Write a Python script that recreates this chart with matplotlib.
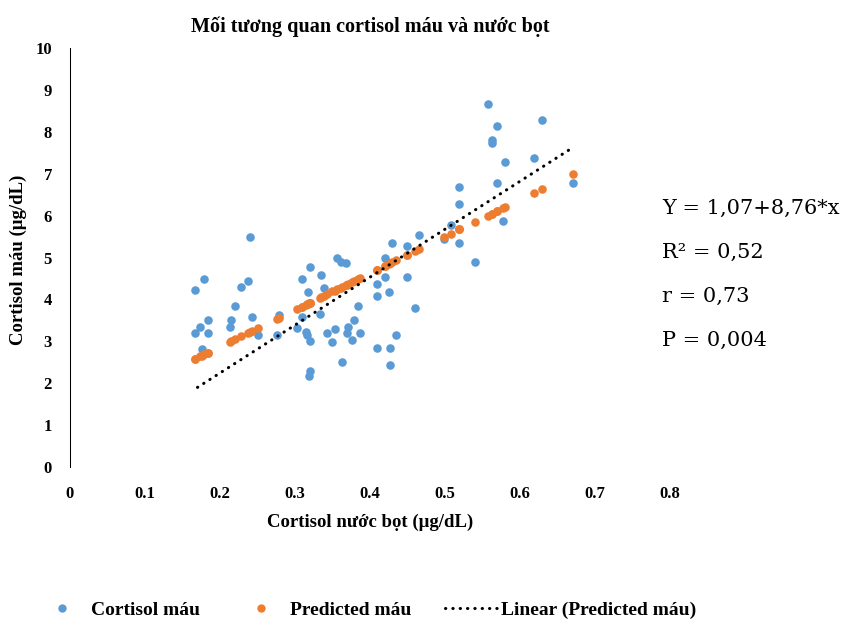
import matplotlib
matplotlib.use("Agg")
import matplotlib.pyplot as plt
from matplotlib.lines import Line2D

# ---- data ----
saliva_x = [0.166, 0.179, 0.184, 0.174, 0.166, 0.184, 0.176, 0.240, 0.238, 0.228,
            0.220, 0.215, 0.213, 0.243, 0.251, 0.278, 0.276, 0.309, 0.320, 0.335,
            0.317, 0.339, 0.333, 0.309, 0.302, 0.314, 0.316, 0.320, 0.320, 0.318,
            0.356, 0.361, 0.368, 0.342, 0.353, 0.350, 0.371, 0.369, 0.376, 0.387,
            0.379, 0.384, 0.363, 0.410, 0.409, 0.425, 0.420, 0.420, 0.430, 0.409,
            0.427, 0.427, 0.435, 0.450, 0.450, 0.466, 0.460, 0.499, 0.508, 0.519,
            0.519, 0.519, 0.540, 0.557, 0.570, 0.563, 0.563, 0.580, 0.570, 0.578,
            0.619, 0.629, 0.670]
blood_y = [4.22, 4.49, 3.52, 3.34, 3.21, 3.21, 2.81, 5.50, 4.44, 4.30,
           3.84, 3.50, 3.33, 3.57, 3.15, 3.63, 3.15, 4.48, 4.77, 4.58,
           4.17, 4.27, 3.64, 3.59, 3.31, 3.23, 3.15, 3.01, 2.29, 2.16,
           5.00, 4.90, 4.86, 3.21, 3.30, 2.98, 3.35, 3.19, 3.03, 3.21,
           3.52, 3.84, 2.51, 4.36, 4.08, 4.17, 5.00, 4.53, 5.35, 2.85,
           2.85, 2.43, 3.15, 5.27, 4.53, 5.54, 3.80, 5.45, 5.77, 5.35,
           6.68, 6.28, 4.90, 8.66, 8.15, 7.80, 7.74, 7.29, 6.77, 5.86,
           7.37, 8.29, 6.77]
predicted_y = [2.57, 2.69, 2.73, 2.64, 2.57, 2.73, 2.66, 3.22, 3.20, 3.12,
               3.05, 3.00, 2.99, 3.25, 3.32, 3.56, 3.54, 3.83, 3.92, 4.05,
               3.90, 4.09, 4.04, 3.83, 3.77, 3.87, 3.89, 3.92, 3.92, 3.91,
               4.24, 4.28, 4.34, 4.12, 4.21, 4.19, 4.37, 4.35, 4.41, 4.51,
               4.44, 4.48, 4.30, 4.71, 4.70, 4.84, 4.80, 4.80, 4.89, 4.70,
               4.86, 4.86, 4.93, 5.06, 5.06, 5.20, 5.15, 5.49, 5.57, 5.67,
               5.67, 5.67, 5.85, 6.00, 6.11, 6.05, 6.05, 6.20, 6.11, 6.18,
               6.54, 6.63, 6.99]
trend_x = [0.170, 0.670]
trend_y = [1.90, 7.62]

x_ticks = [0, 0.1, 0.2, 0.3, 0.4, 0.5, 0.6, 0.7, 0.8]
x_tick_labels = ["0", "0.1", "0.2", "0.3", "0.4", "0.5", "0.6", "0.7", "0.8"]
y_ticks = list(range(0, 11))

stats_text = ["Y = 1,07+8,76*x", "R\u00b2 = 0,52", "r = 0,73", "P = 0,004"]

title = "Mối tương quan cortisol máu và nước bọt"
xlabel = "Cortisol nước bọt (μg/dL)"
ylabel = "Cortisol máu (μg/dL)"
legend_labels = ["Cortisol máu", "Predicted máu", "Linear (Predicted máu)"]

BLUE = "#5B9BD5"
ORANGE = "#ED7D31"
SERIF = ["Liberation Serif", "DejaVu Serif"]

fig = plt.figure(figsize=(8.41, 6.21), dpi=100)
ax = fig.add_axes([70 / 841, 1 - 467 / 621, 600 / 841, (467 - 48) / 621])

ax.scatter(saliva_x, blood_y, s=38, color=BLUE, linewidths=0, zorder=2)
ax.scatter(saliva_x, predicted_y, s=38, color=ORANGE, linewidths=0, zorder=3)
ax.plot(trend_x, trend_y, color="black", linewidth=2.2,
        linestyle=(0, (0.1, 2.3)), dash_capstyle="round", zorder=4)

ax.set_xlim(0, 0.8)
ax.set_ylim(0, 10)
ax.set_xticks(x_ticks)
ax.set_xticklabels(x_tick_labels)
ax.set_yticks(y_ticks)
for name, s in ax.spines.items():
    s.set_visible(name == "left")
ax.spines["left"].set_color("black")
ax.spines["left"].set_linewidth(0.75)
ax.tick_params(length=0)
ax.tick_params(axis="y", pad=13)
ax.tick_params(axis="x", pad=14)
for lab in ax.get_xticklabels() + ax.get_yticklabels():
    lab.set_fontfamily(SERIF)
    lab.set_fontweight("bold")
    lab.set_fontsize(12)

fig.text(370 / 841, 1 - 27 / 621, title, ha="center", va="center",
         fontfamily=SERIF, fontweight="bold", fontsize=14.5)
fig.text(370 / 841, 1 - 522 / 621, xlabel, ha="center", va="center",
         fontfamily=SERIF, fontweight="bold", fontsize=13.5)
fig.text(18 / 841, 1 - 260 / 621, ylabel, ha="center", va="center", rotation=90,
         fontfamily=SERIF, fontweight="bold", fontsize=13.5)

for i, t in enumerate(stats_text):
    fig.text(662 / 841, 1 - (208 + i * 44) / 621, t, ha="left", va="center",
             fontfamily=["DejaVu Serif"], fontsize=15)

handles = [
    Line2D([], [], marker="o", linestyle="none", markersize=6,
           markerfacecolor=BLUE, markeredgewidth=0),
    Line2D([], [], marker="o", linestyle="none", markersize=6,
           markerfacecolor=ORANGE, markeredgewidth=0),
    Line2D([], [], color="black", linewidth=2.2, linestyle=(0, (0.1, 2.3)),
           dash_capstyle="round"),
]
leg = fig.legend(handles, legend_labels, loc="center", ncol=3,
                 bbox_to_anchor=(366 / 841, 1 - 610 / 621), frameon=False,
                 prop={"family": SERIF, "weight": "bold", "size": 14},
                 columnspacing=1.75, handlelength=2.7, handletextpad=0.15)

fig.savefig("out.png", dpi=100)
